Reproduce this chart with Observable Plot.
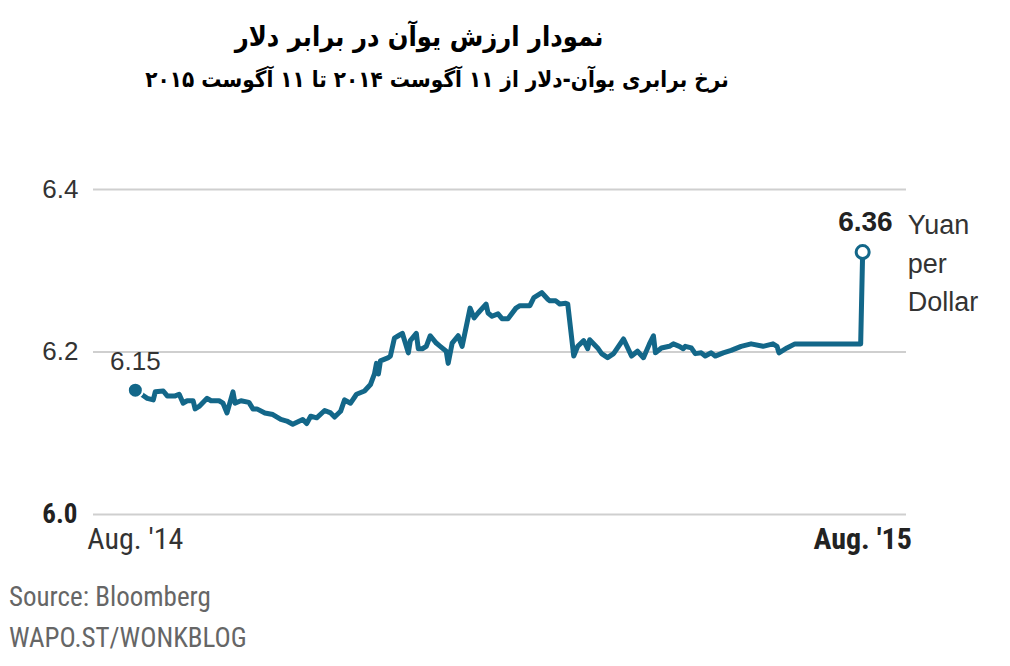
<!DOCTYPE html>
<html><head><meta charset="utf-8">
<script src="https://cdn.jsdelivr.net/npm/d3@7"></script>
<script src="https://cdn.jsdelivr.net/npm/@observablehq/plot@0.6"></script>
<style>
body{margin:0;background:#fff;}
#wrap{position:relative;width:1010px;height:666px;overflow:hidden;background:#fff;}
.fa{position:absolute;direction:rtl;font-family:"DejaVu Sans Condensed","DejaVu Sans",sans-serif;font-weight:bold;color:#000;text-align:center;white-space:nowrap;line-height:1;}
#title{left:0;width:838px;top:23px;font-size:27px;}
#subtitle{left:0;width:874px;top:68px;font-size:22.3px;}
#chart{position:absolute;left:0;top:130px;}
.src{position:absolute;left:9px;font-family:"Liberation Sans Narrow","Roboto Condensed","Arial Narrow",sans-serif;font-stretch:condensed;font-size:27px;color:#666;line-height:1;}
</style></head>
<body><div id="wrap">
<div id="title" class="fa">نمودار ارزش یوآن در برابر دلار</div>
<div id="subtitle" class="fa">نرخ برابری یوآن-دلار از ۱۱ آگوست ۲۰۱۴ تا ۱۱ آگوست ۲۰۱۵</div>
<div id="chart"></div>
<div class="src" style="top:584px">Source: Bloomberg</div>
<div class="src" style="top:625px">WAPO.ST/WONKBLOG</div>
</div>
<script>
const dates = ["2014-08-11","2014-08-14","2014-08-17","2014-08-20","2014-08-21","2014-08-25","2014-08-27","2014-08-31",
"2014-09-02","2014-09-04","2014-09-06","2014-09-09","2014-09-10","2014-09-12","2014-09-16","2014-09-18","2014-09-22","2014-09-24","2014-09-26","2014-09-29","2014-09-30",
"2014-10-03","2014-10-07","2014-10-09","2014-10-11","2014-10-15","2014-10-19","2014-10-23","2014-10-26","2014-10-29",
"2014-11-03","2014-11-05","2014-11-07","2014-11-10","2014-11-14","2014-11-17","2014-11-19","2014-11-22","2014-11-24","2014-11-27","2014-11-30",
"2014-12-04","2014-12-07","2014-12-09","2014-12-10","2014-12-11","2014-12-12","2014-12-16","2014-12-17","2014-12-19","2014-12-21","2014-12-23","2014-12-26","2014-12-27","2014-12-30","2014-12-31",
"2015-01-02","2015-01-04","2015-01-06","2015-01-09","2015-01-11","2015-01-14","2015-01-15","2015-01-17","2015-01-20","2015-01-22","2015-01-26","2015-01-28","2015-01-30",
"2015-02-03","2015-02-04","2015-02-06","2015-02-09","2015-02-11","2015-02-14","2015-02-18","2015-02-20","2015-02-25","2015-02-27",
"2015-03-03","2015-03-06","2015-03-07","2015-03-10","2015-03-12","2015-03-15","2015-03-16","2015-03-19","2015-03-21","2015-03-24","2015-03-26","2015-03-27","2015-03-31",
"2015-04-02","2015-04-05","2015-04-08","2015-04-13","2015-04-17","2015-04-20","2015-04-23","2015-04-26","2015-04-28","2015-04-29",
"2015-05-02","2015-05-06","2015-05-08","2015-05-11","2015-05-13","2015-05-14","2015-05-17","2015-05-19","2015-05-22","2015-05-24","2015-05-27","2015-05-29",
"2015-06-02","2015-06-06","2015-06-11","2015-06-16","2015-06-22","2015-06-27","2015-06-29","2015-06-30",
"2015-07-04","2015-07-08","2015-07-17","2015-07-29","2015-08-08","2015-08-10","2015-08-11"];
const values = [6.153,6.148,6.143,6.141,6.151,6.152,6.146,6.146,
6.148,6.137,6.140,6.140,6.130,6.133,6.143,6.140,6.140,6.137,6.125,6.151,6.137,
6.140,6.138,6.130,6.130,6.125,6.123,6.117,6.115,6.111,
6.117,6.112,6.121,6.119,6.128,6.125,6.120,6.127,6.141,6.137,6.148,
6.152,6.160,6.173,6.186,6.173,6.189,6.193,6.195,6.217,6.220,6.223,6.199,6.214,6.223,6.204,
6.204,6.207,6.220,6.211,6.207,6.201,6.186,6.211,6.220,6.207,6.254,6.242,6.248,
6.259,6.248,6.244,6.247,6.241,6.241,6.254,6.257,6.257,6.267,
6.273,6.265,6.263,6.263,6.259,6.260,6.259,6.195,6.207,6.214,6.204,6.215,6.205,
6.198,6.193,6.198,6.216,6.195,6.201,6.193,6.210,6.220,6.199,
6.205,6.207,6.210,6.207,6.204,6.207,6.205,6.198,6.199,6.195,6.199,6.195,
6.199,6.202,6.207,6.210,6.207,6.210,6.207,6.199,
6.205,6.210,6.210,6.210,6.210,6.210,6.323];

const yTicks = [6.0, 6.2, 6.4];
const xTickDates = ["2014-08-11", "2015-08-11"];
const xTickLabels = ["Aug. '14", "Aug. '15"];
const xDomain = ["2014-07-21", "2015-09-02"];
const startLabel = "6.15";
const endLabel = "6.36";
const endLabelLevel = 6.36;
const unitLabel = "Yuan\nper\nDollar";

const parse = s => new Date(s + "T00:00:00Z");
const data = dates.map((d, i) => ({date: parse(d), value: values[i]}));
const first = data[0], last = data[data.length - 1];
const teal = "#136789";
const sans = "'Liberation Sans', Arial, sans-serif";
const narrow = "'Liberation Sans Narrow','Roboto Condensed','Arial Narrow',sans-serif";
const xt = xTickDates.map((d, i) => ({date: parse(d), label: xTickLabels[i]}));

const chart = Plot.plot({
  width: 1010,
  height: 434,
  marginTop: 59,
  marginBottom: 50,
  marginLeft: 93,
  marginRight: 104,
  style: {fontFamily: sans, background: "#fff", overflow: "visible"},
  x: {type: "utc", domain: xDomain.map(parse), axis: null},
  y: {domain: [6.0, 6.4], axis: null},
  marks: [
    Plot.ruleY(yTicks, {stroke: "#cfcfcf", strokeWidth: 2}),
    Plot.text(yTicks.filter(t => t !== 6.0), {x: parse(xDomain[0]), y: d => d, text: d => d.toFixed(1), textAnchor: "end", dx: -15, fontSize: 26, fill: "#333"}),
    Plot.text(yTicks.filter(t => t === 6.0), {x: parse(xDomain[0]), y: d => d, text: d => d.toFixed(1), textAnchor: "end", dx: -16, fontSize: 27, fontWeight: "bold", fill: "#222", fontFamily: narrow}),
    Plot.text(xt.slice(0, 1), {x: "date", y: 6.0, text: "label", dy: 25, fontSize: 30, fill: "#333", fontFamily: narrow}),
    Plot.text(xt.slice(1), {x: "date", y: 6.0, text: "label", dy: 25, fontSize: 30, fontWeight: "bold", fill: "#222", fontFamily: narrow}),
    Plot.line(data, {x: "date", y: "value", stroke: teal, strokeWidth: 5, strokeLinejoin: "round", strokeLinecap: "round"}),
    Plot.dot([first], {x: "date", y: "value", r: 7.5, fill: teal, stroke: "#fff", strokeWidth: 2}),
    Plot.dot([last], {x: "date", y: "value", r: 6.5, fill: "#fff", stroke: teal, strokeWidth: 3}),
    Plot.text([first], {x: "date", y: "value", text: () => startLabel, dy: -29, fontSize: 26, fill: "#333"}),
    Plot.text([last], {x: "date", y: () => endLabelLevel, text: () => endLabel, textAnchor: "end", dx: 30, fontSize: 28, fontWeight: "bold", fill: "#222"}),
    Plot.text([last], {x: "date", y: () => endLabelLevel, text: () => unitLabel, textAnchor: "start", lineAnchor: "top", dy: -15, dx: 45, fontSize: 27, lineHeight: 1.42, fill: "#333"})
  ]
});
document.getElementById("chart").appendChild(chart);
</script>
</body></html>
